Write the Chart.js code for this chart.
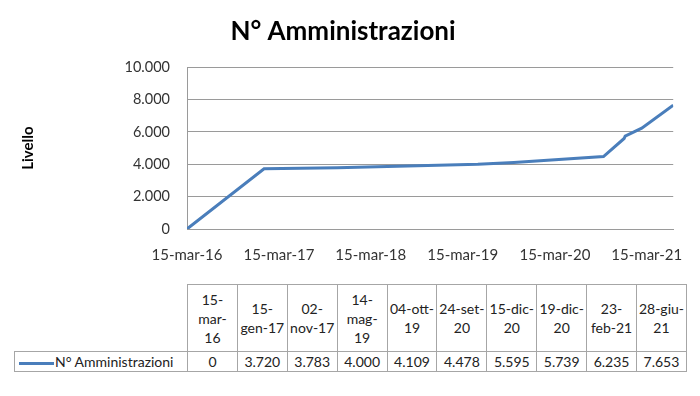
<!DOCTYPE html>
<html>
<head>
<meta charset="utf-8">
<script src="https://cdn.jsdelivr.net/npm/chart.js@4/dist/chart.umd.min.js"></script>
<style>
  body { margin: 0; background: #fff; }
  #wrap { position: relative; width: 700px; height: 396px; font-family: Lato, "Liberation Sans", sans-serif; }
  #chart { position: absolute; left: 0; top: 0; }
  #dataTable {
    position: absolute; left: 14px; top: 284px;
    border-collapse: collapse; table-layout: fixed; width: 672px;
    font-size: 14px; color: #222;
  }
  #dataTable td { border: 1px solid #a6a6a6; text-align: center; padding: 0 1px; line-height: 19px; }
  #dataTable tr.head td { height: 66px; white-space: pre-line; }
  #dataTable tr.head td.blank { border: none; }
  #dataTable td.legend { text-align: left; padding-left: 4px; white-space: nowrap; }
  .swatch { display: inline-block; width: 35px; height: 3px; background: #4a7ebb; vertical-align: middle; margin-right: 1px; }
</style>
</head>
<body>
<div id="wrap">
  <canvas id="chart" width="700" height="282"></canvas>
  <table id="dataTable"></table>
</div>
<script>
const seriesName = "N° Amministrazioni";
const dates = ["2016-03-15", "2017-01-15", "2017-11-02", "2019-05-14", "2019-10-04",
               "2020-09-24", "2020-12-15", "2020-12-19", "2021-02-23", "2021-06-28"];
const values = [0, 3720, 3783, 4000, 4109, 4478, 5595, 5739, 6235, 7653];
const tableLabels = ["15-\nmar-\n16", "15-\ngen-17", "02-\nnov-17", "14-\nmag-\n19", "04-ott-\n19",
                     "24-set-\n20", "15-dic-\n20", "19-dic-\n20", "23-\nfeb-21", "28-giu-\n21"];
const tickDates = ["2016-03-15", "2017-03-15", "2018-03-15", "2019-03-15", "2020-03-15", "2021-03-15"];
const months = ["gen", "feb", "mar", "apr", "mag", "giu", "lug", "ago", "set", "ott", "nov", "dic"];

function dayOf(s) {
  let p = s.split("-");
  return Date.UTC(+p[0], +p[1] - 1, +p[2]) / 864e5;
}

function dayLabel(v) {
  let d = new Date(v * 864e5);
  let dd = String(d.getUTCDate()).padStart(2, "0");
  return dd + "-" + months[d.getUTCMonth()] + "-" + String(d.getUTCFullYear()).slice(2);
}

function fmt(n) {
  return String(n).replace(/\B(?=(\d{3})+(?!\d))/g, ".");
}

// data table under the chart
const table = document.getElementById("dataTable");
let colgroup = "<colgroup><col style='width:173px'>" + tableLabels.map(() => "<col style='width:49.9px'>").join("") + "</colgroup>";
let head = "<tr class='head'><td class='blank'></td>" + tableLabels.map(l => `<td>${l}</td>`).join("") + "</tr>";
let row = `<tr><td class="legend"><span class="swatch"></span>${seriesName}</td>` + values.map(v => `<td>${fmt(v)}</td>`).join("") + "</tr>";
table.innerHTML = colgroup + head + row;

const font = "Lato, 'Liberation Sans', sans-serif";
const gridColor = "#9a9a9a";

new Chart(document.getElementById("chart"), {
  type: "line",
  data: {
    datasets: [{
      label: seriesName,
      data: dates.map((d, i) => ({ x: dayOf(d), y: values[i] })),
      borderColor: "#4a7ebb",
      borderWidth: 3,
      pointRadius: 0,
      tension: 0,
      fill: false
    }]
  },
  options: {
    responsive: false,
    animation: false,
    devicePixelRatio: 1,
    layout: { padding: { left: 0, right: 14, top: 0, bottom: 0 } },
    plugins: {
      legend: { display: false },
      tooltip: { enabled: false },
      title: {
        display: true,
        text: seriesName,
        color: "#000",
        font: { family: font, size: 26, weight: "bold" },
        padding: { top: 16, bottom: 20 }
      }
    },
    scales: {
      x: {
        type: "linear",
        min: dayOf(dates[0]),
        max: dayOf(dates[dates.length - 1]),
        afterBuildTicks: (scale) => {
          scale.ticks = tickDates.map(d => ({ value: dayOf(d) }));
        },
        afterFit: (scale) => { scale.height = 53; },
        grid: { display: false, drawTicks: false },
        border: { display: true, color: gridColor },
        ticks: {
          autoSkip: false,
          maxRotation: 0,
          padding: 17,
          color: "#333",
          font: { family: font, size: 15 },
          callback: (v) => dayLabel(v)
        }
      },
      y: {
        min: 0,
        max: 10000,
        afterFit: (scale) => { scale.width = 187; },
        grid: { color: gridColor, drawTicks: false },
        border: { display: true, color: gridColor },
        ticks: {
          stepSize: 2000,
          padding: 17,
          color: "#333",
          font: { family: font, size: 14.5 },
          callback: (v) => fmt(v)
        },
        title: {
          display: true,
          text: "Livello",
          color: "#000",
          font: { family: font, size: 15, weight: "bold" },
          padding: { top: 19, bottom: 0 }
        }
      }
    }
  }
});
</script>
</body>
</html>
